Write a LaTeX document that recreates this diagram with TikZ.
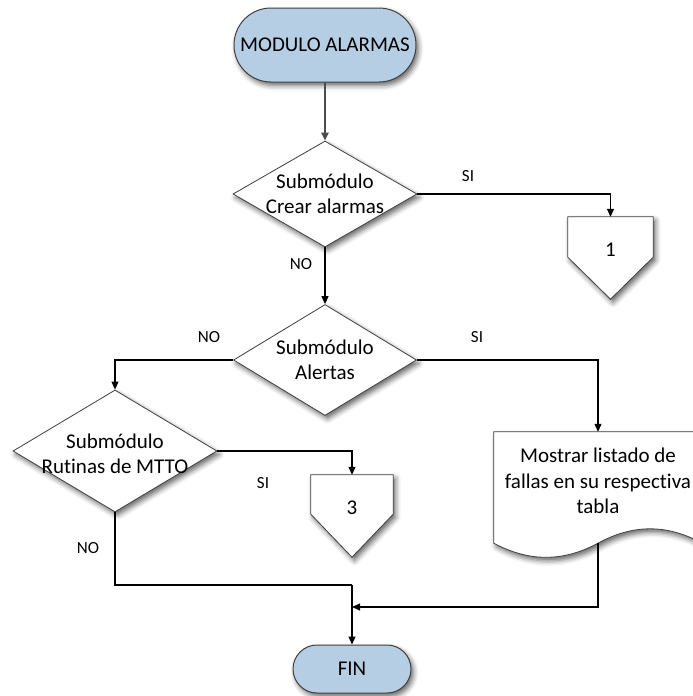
\documentclass[tikz,border=0pt]{standalone}
\usepackage{fontspec}
\setmainfont{Carlito}[Ligatures=NoCommon]
\usetikzlibrary{shapes.geometric,arrows.meta,shadows.blur}
\definecolor{termblue}{RGB}{182,206,228}
\definecolor{edgegray}{RGB}{64,64,64}
\begin{document}
\begin{tikzpicture}[x=1pt,y=-1pt,
  every node/.style={font=\fontsize{21}{25.5}\selectfont},
  softshadow/.style={blur shadow={shadow xshift=2.5pt,shadow yshift=-3.5pt,shadow blur radius=5pt,shadow opacity=60}},
  terminal/.style={rectangle,draw=edgegray,line width=1pt,fill=termblue,softshadow,inner sep=0pt},
  dia/.style={diamond,draw=edgegray,line width=0.8pt,fill=white,softshadow,inner sep=0pt},
  hidden/.style={rectangle,inner sep=0pt},
  shapeline/.style={draw=edgegray,line width=0.8pt,fill=white,softshadow},
  txt/.style={align=center,inner sep=0pt},
  lbl/.style={font=\fontsize{17}{20}\selectfont,inner sep=0pt},
  arr/.style={draw=black,line width=1.1pt,-{Triangle[length=8pt,width=7pt]}},
  link/.style={draw=black,line width=1.1pt}]

\useasboundingbox (0,0) rectangle (693,696);
\clip (0,0) rectangle (693,696);

% terminals
\node[terminal,minimum width=182pt,minimum height=74pt,rounded corners=37pt] (start) at (325,45) {MODULO ALARMAS};
\node[terminal,minimum width=118pt,minimum height=48pt,rounded corners=24pt] (fin) at (352,669) {FIN};

% decisions
\node[dia,minimum width=184pt,minimum height=106pt] (d1) at (325,194) {};
\node[txt] (d1t) at (d1.center) {Submódulo\\Crear alarmas};
\node[dia,minimum width=183pt,minimum height=111pt] (d2) at (325,360) {};
\node[txt] (d2t) at (d2.center) {Submódulo\\Alertas};
\node[dia,minimum width=204pt,minimum height=122pt] (d3) at (115,451) {};
\node[txt] (d3t) at ([yshift=-3pt]d3.center) {Submódulo\\Rutinas de MTTO};

% off-page connectors
\node[hidden,minimum width=85pt,minimum height=40pt] (c1) at (610.5,237) {};
\draw[shapeline] (c1.north west) -- (c1.north east) -- (c1.south east)
  -- ([yshift=-42pt]c1.south) -- (c1.south west) -- cycle;
\node[txt] (c1t) at (610.5,250) {1};
\node[hidden,minimum width=82pt,minimum height=39pt] (c3) at (352,494.5) {};
\draw[shapeline] (c3.north west) -- (c3.north east) -- (c3.south east)
  -- ([yshift=-43pt]c3.south) -- (c3.south west) -- cycle;
\node[txt] (c3t) at (352,508) {3};

% document
\node[hidden,minimum width=208pt,minimum height=111pt] (doc) at (598,487.5) {};
\draw[shapeline] (doc.north west) -- (doc.north east) -- (doc.south east)
  .. controls (667,524) and (633,524) .. (doc.south)
  .. controls (563,562) and (529,562) .. (doc.south west) -- cycle;
\node[txt] (doct) at (598,481) {Mostrar listado de\\fallas en su respectiva\\tabla};

% junction points
\coordinate (j) at (352,585);
\coordinate (k) at (352,607);

% connectors
\draw[draw=black!70,line width=2pt,-{Triangle[length=8pt,width=7pt]}] (start.south) -- (d1.north);
\draw[arr] (d1.east) -| (c1.north);
\draw[arr] (d1.south) -- (d2.north);
\draw[arr] (d2.west) -| (d3.north);
\draw[arr] (d2.east) -| (doc.north);
\draw[arr] (d3.east) -| (c3.north);
\draw[link] (d3.south) |- (j);
\draw[arr] (j) -- (fin.north);
\draw[arr] (doc.south) |- (k);

% branch labels
\node[lbl] (l1) at (468,176) {SI};
\node[lbl] (l2) at (301,264) {NO};
\node[lbl] (l3) at (209,337) {NO};
\node[lbl] (l4) at (477,337) {SI};
\node[lbl] (l5) at (263,483) {SI};
\node[lbl] (l6) at (88,548) {NO};
\end{tikzpicture}
\end{document}
